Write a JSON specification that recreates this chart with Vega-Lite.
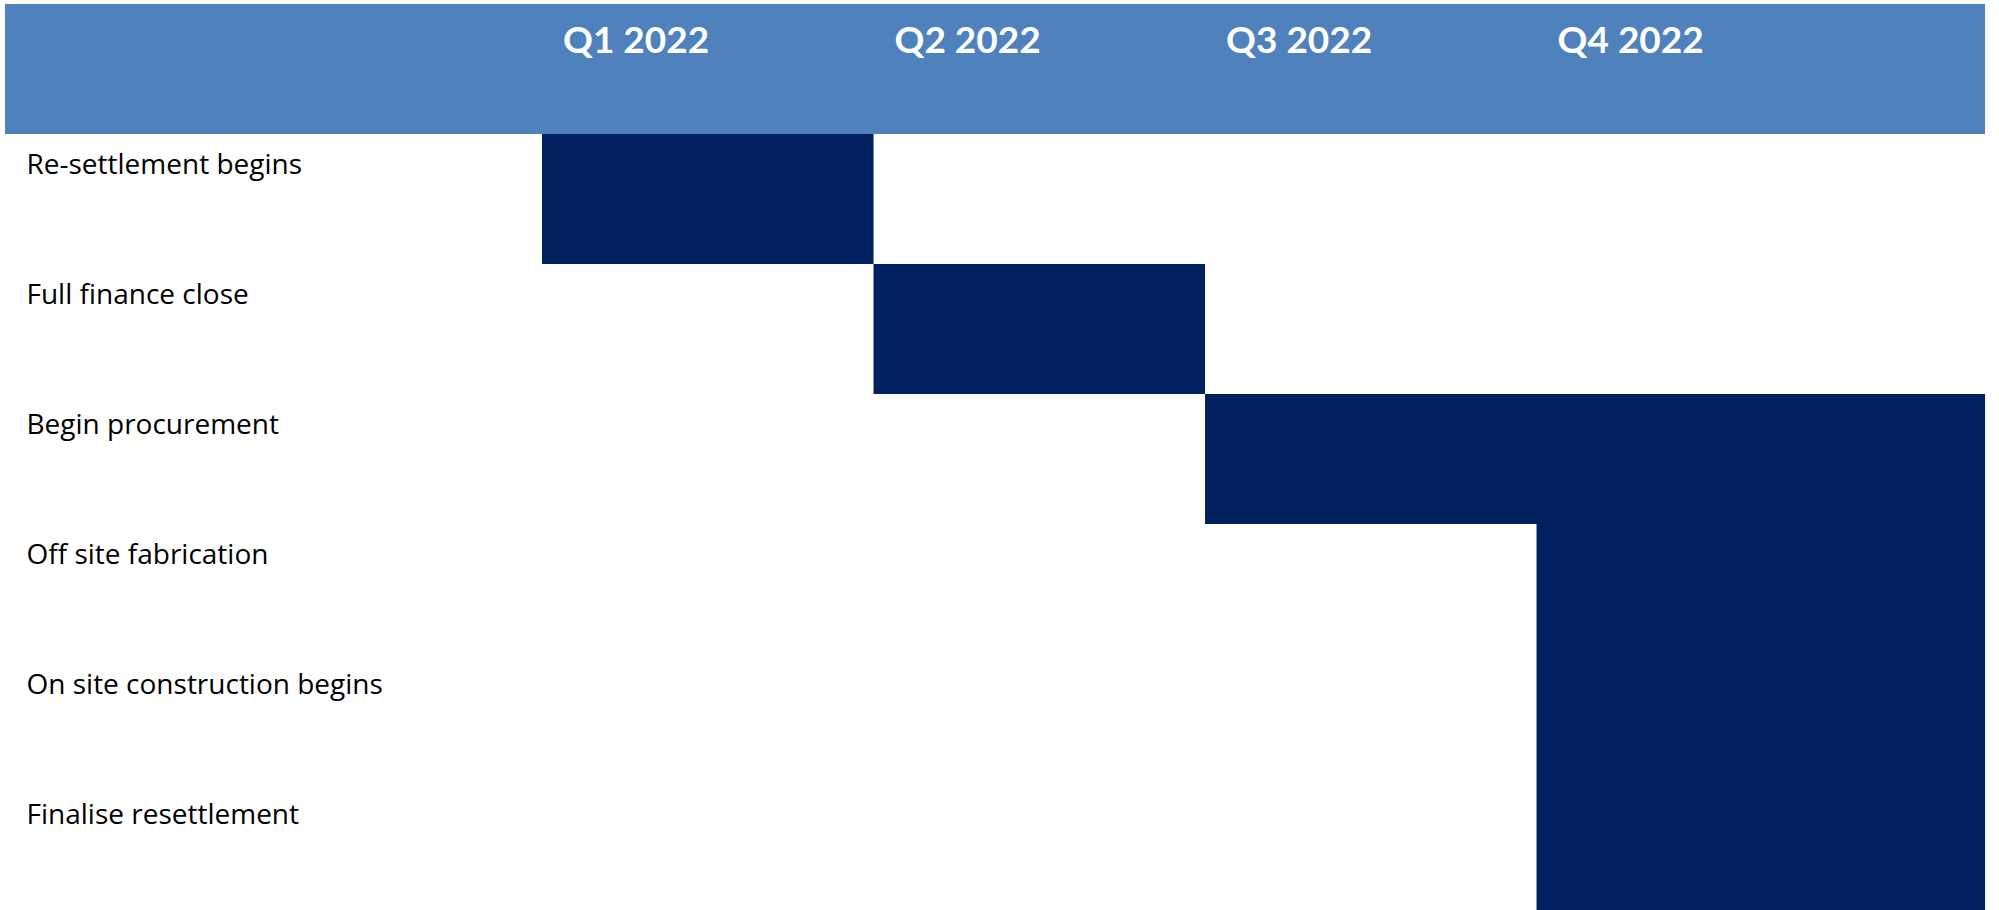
{
  "$schema": "https://vega.github.io/schema/vega-lite/v6.json",
  "width": 1999,
  "height": 910,
  "autosize": {"type": "none"},
  "padding": {"top": 4, "left": 0, "right": 0, "bottom": 0},
  "background": "white",
  "config": {"view": {"stroke": null}, "font": "Lato"},
  "datasets": {
    "header": [{"row": "header", "start": -1.62, "end": 4.353}],
    "tasks": [
      {"row": "Re-settlement begins", "start": 0, "end": 1},
      {"row": "Full finance close", "start": 1, "end": 2},
      {"row": "Begin procurement", "start": 2, "end": 4.353},
      {"row": "Off site fabrication", "start": 3, "end": 4.353},
      {"row": "On site construction begins", "start": 3, "end": 4.353},
      {"row": "Finalise resettlement", "start": 3, "end": 4.353}
    ],
    "quarters": [
      {"row": "header", "label": "Q1 2022", "start": 0},
      {"row": "header", "label": "Q2 2022", "start": 1},
      {"row": "header", "label": "Q3 2022", "start": 2},
      {"row": "header", "label": "Q4 2022", "start": 3}
    ]
  },
  "layer": [
    {
      "data": {"name": "header"},
      "mark": {"type": "rect", "color": "#4F81BD"},
      "encoding": {
        "x": {"field": "start", "type": "quantitative", "scale": {"domain": [-1.635, 4.395], "nice": false, "zero": false}, "axis": null},
        "x2": {"field": "end"},
        "y": {
          "field": "row", "type": "nominal",
          "scale": {"domain": ["header", "Re-settlement begins", "Full finance close", "Begin procurement", "Off site fabrication", "On site construction begins", "Finalise resettlement"], "paddingInner": 0, "paddingOuter": 0},
          "axis": {
            "orient": "left", "title": null, "domain": false, "ticks": false, "grid": false,
            "labelAlign": "left", "labelPadding": -26, "labelBaseline": "alphabetic", "labelOffset": -25,
            "labelFontSize": 28, "labelColor": "#000000", "labelFont": "Open Sans", "labelLimit": 0, "labelOverlap": false,
            "labelExpr": "datum.value == 'header' ? '' : datum.label"
          }
        }
      }
    },
    {
      "data": {"name": "tasks"},
      "mark": {"type": "rect", "color": "#002060"},
      "encoding": {
        "x": {"field": "start", "type": "quantitative"},
        "x2": {"field": "end"},
        "y": {"field": "row", "type": "nominal"}
      }
    },
    {
      "data": {"name": "quarters"},
      "mark": {"type": "text", "color": "white", "font": "Lato", "fontWeight": "bold", "fontSize": 37, "align": "left", "baseline": "alphabetic", "dx": 21, "dy": -16},
      "encoding": {
        "x": {"field": "start", "type": "quantitative"},
        "y": {"field": "row", "type": "nominal"},
        "text": {"field": "label"}
      }
    }
  ]
}
